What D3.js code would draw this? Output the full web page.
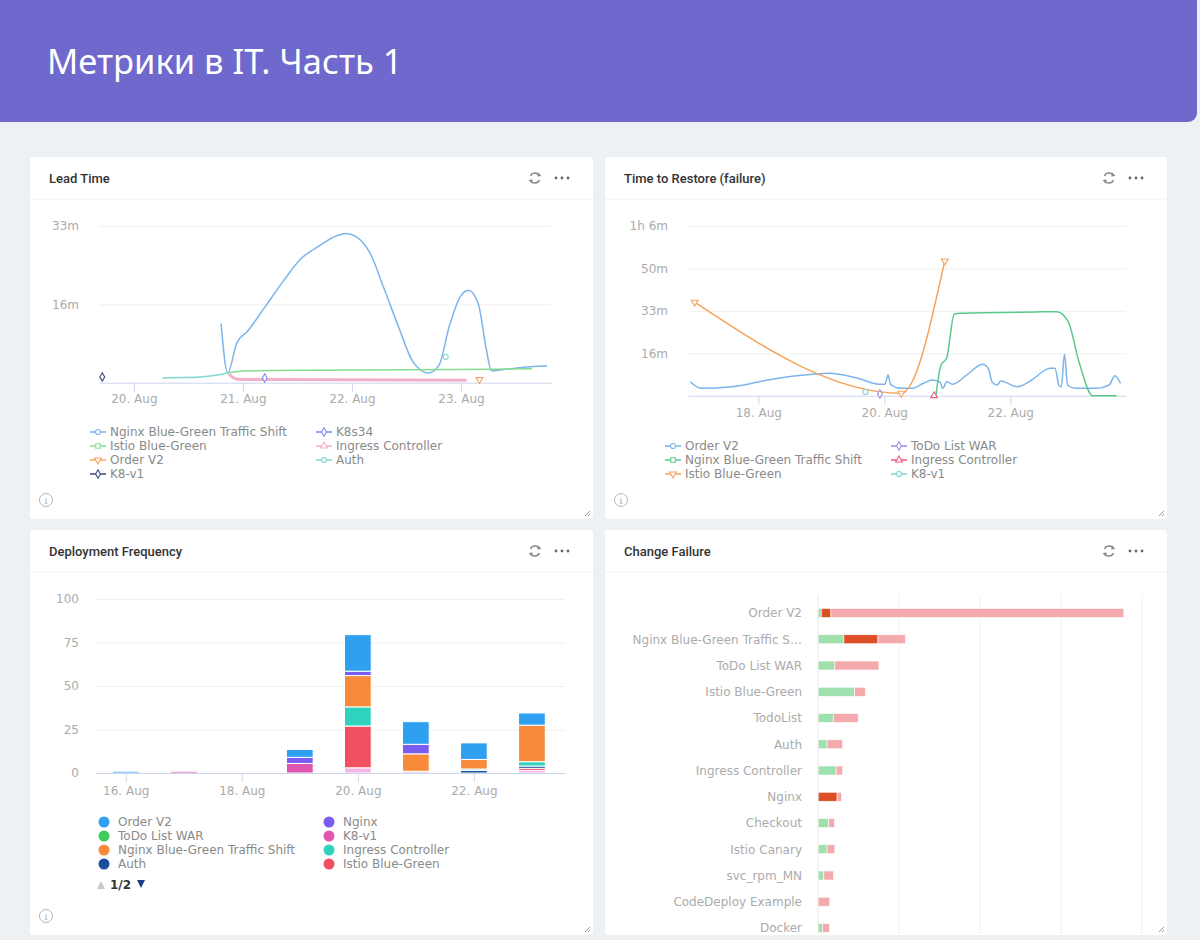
<!DOCTYPE html>
<html>
<head>
<meta charset="utf-8">
<script src="https://cdnjs.cloudflare.com/ajax/libs/d3/7.8.5/d3.min.js"></script>
<style>
  body { margin: 0; background: #eef1f4; }
  svg { display: block; }
  .axis text { font-family: "DejaVu Sans", sans-serif; font-size: 12px; fill: #ababab; }
  .legend text { font-family: "DejaVu Sans", sans-serif; font-size: 12px; fill: #8a8a8a; }
  .ptitle { font-family: Roboto, sans-serif; font-size: 13px; font-weight: 500; fill: #333; }
</style>
</head>
<body>
<svg id="dash" width="1200" height="940"></svg>
<script>
// ---------- data (x = day of August 2019, y = seconds) ----------
var leadTicks = [20, 21, 22, 23];
var leadYTicks = [1000, 2000];
var leadNames = ["Nginx Blue-Green Traffic Shift", "K8s34", "Istio Blue-Green",
  "Ingress Controller", "Order V2", "Auth", "K8-v1"];
var leadNginx = [[20.80, 755], [20.86, 125], [20.945, 511], [21.04, 653], [21.20, 961],
  [21.37, 1296], [21.53, 1579], [21.70, 1746], [21.86, 1875], [21.945, 1905], [22.03, 1870],
  [22.17, 1643], [22.29, 1219], [22.43, 704], [22.56, 266], [22.70, 125], [22.80, 228],
  [22.89, 704], [22.99, 1090], [23.07, 1180], [23.16, 1000], [23.23, 447], [23.28, 151],
  [23.36, 163], [23.52, 189], [23.79, 215]];
var leadK8s34 = [[21.2, 60]];
var leadIstio = [[20.86, 125], [21.0, 150], [21.6, 160], [22.5, 165], [23.3, 172], [23.65, 178]];
var leadIngress = [[20.87, 110], [20.95, 45], [21.3, 40], [22.5, 35], [23.05, 30]];
var leadOrder = [[23.17, 40]];
var leadAuth = [[20.26, 60], [20.45, 66], [20.61, 73], [20.75, 95], [20.86, 125], null, [22.86, 330]];
var leadK8v1 = [[19.71, 73]];

var ttrTicks = [18, 20, 22];
var ttrYTicks = [1000, 2000, 3000, 4000];
var ttrNames = ["Order V2", "ToDo List WAR", "Nginx Blue-Green Traffic Shift",
  "Ingress Controller", "Istio Blue-Green", "K8-v1"];
var ttrOrder = [[16.92, 330], [17.09, 175], [17.58, 212], [18.15, 370], [18.72, 488], [19.13, 528],
  [19.58, 410], [19.93, 269], [20.01, 269], [20.06, 488], [20.10, 269], [20.27, 175], [20.45, 175],
  [20.62, 292], [20.76, 370], [20.88, 330], [20.93, 175], [20.99, 330], [21.08, 269], [21.31, 488],
  [21.56, 740], [21.65, 646], [21.71, 330], [21.79, 252], [21.85, 347], [22.11, 212], [22.34, 370],
  [22.63, 646], [22.71, 646], [22.77, 252], [22.81, 212], [22.86, 976], [22.91, 252], [23.03, 175],
  [23.37, 175], [23.57, 252], [23.66, 472], [23.75, 292]];
var ttrTodo = [[19.93, 40]];
var ttrNginx = [[20.82, 0], [20.90, 723], [20.99, 888], [21.11, 1919], [21.2, 1943], [21.8, 1960],
  [22.4, 1975], [22.74, 1981], [22.92, 1745], [23.09, 802], [23.31, 0], [23.69, 0]];
var ttrIngress = [[20.79, 0]];
var ttrIstio = [[16.99, 2203], [20.27, 57], [20.96, 3177]];
var ttrK8v1 = [[19.70, 87]];

var deployDays = [16, 17, 18, 19, 20, 21, 22, 23];
var deployTicks = [16, 18, 20, 22];
var deployYTicks = [0, 25, 50, 75, 100];
var deployNames = ["Order V2", "Nginx", "ToDo List WAR", "K8-v1", "Nginx Blue-Green Traffic Shift",
  "Ingress Controller", "Auth", "Istio Blue-Green", "TodoList"];
var deployOrder = [1, 0, 0, 4.5, 21, 13, 9.5, 7];
var deployNginx = [0, 0, 0, 3.5, 2.5, 5.5, 0, 0];
var deployTodoWar = [0, 0, 0, 0, 0, 0, 0, 0];
var deployK8v1 = [0, 1, 0, 5.5, 0, 0, 0, 0];
var deployNginxBG = [0, 0, 0, 0, 18, 10, 5.5, 21];
var deployIngress = [0, 0, 0, 0, 11, 0, 0.8, 2.5];
var deployAuth = [0, 0, 0, 0, 0, 0, 1.5, 1.3];
var deployIstio = [0, 0, 0, 0, 24, 0, 0, 1.2];
var deployTodoList = [0, 0, 0, 0, 3, 1, 0, 1.5];

var cfCategories = ["Order V2", "Nginx Blue-Green Traffic Shift", "ToDo List WAR", "Istio Blue-Green",
  "TodoList", "Auth", "Ingress Controller", "Nginx", "Checkout", "Istio Canary", "svc_rpm_MN",
  "CodeDeploy Example", "Docker"];
var cfSuccess = [1, 8, 5.2, 11.3, 4.8, 2.8, 5.6, 0, 3.3, 2.8, 1.8, 0, 1.4];
var cfFailed = [3, 10.5, 0, 0, 0, 0, 0, 5.9, 0, 0, 0, 0, 0];
var cfOther = [90.4, 8.5, 13.6, 3.3, 7.6, 4.8, 2, 1.4, 1.8, 2.4, 3, 3.6, 2.2];
var cfTicks = [25, 50, 75, 100];

// ---------- helpers ----------
var svg = d3.select("#dash");
var aug = function (d) { return new Date(Date.UTC(2019, 7, 1) + (d - 1) * 864e5); };
var fmtDay = d3.utcFormat("%-d. %b");
function fmtDuration(s) {
  var h = Math.floor(s / 3600), m = Math.floor((s % 3600) / 60);
  return h ? h + "h " + m + "m" : m + "m";
}
var symbols = { circle: d3.symbolCircle, diamond: d3.symbolDiamond, square: d3.symbolSquare,
  triangle: d3.symbolTriangle, "triangle-down": d3.symbolTriangle };

function marker(g, sym, cx, cy, color) {
  g.append("path")
    .attr("d", d3.symbol(symbols[sym], 20)())
    .attr("transform", `translate(${cx},${cy})` + (sym === "triangle-down" ? " rotate(180)" : ""))
    .attr("fill", "#fff")
    .attr("stroke", color)
    .attr("stroke-width", 1.1);
}

// ---------- page ----------
svg.append("rect").attr("width", 1200).attr("height", 940).attr("fill", "#eef1f4");
svg.append("rect")
  .attr("x", -10).attr("y", -12).attr("width", 1207).attr("height", 134).attr("rx", 9)
  .attr("fill", "#6f68cd");
svg.append("text")
  .attr("x", 47).attr("y", 74)
  .attr("font-family", "Noto Sans, sans-serif").attr("font-size", 34.5).attr("fill", "#fff")
  .text("Метрики в IT. Часть 1");

function panel(x, y, w, h, title, info) {
  var g = svg.append("g").attr("transform", `translate(${x},${y})`);
  g.append("rect").attr("width", w).attr("height", h).attr("rx", 3).attr("fill", "#fff");
  g.append("line").attr("x1", 0).attr("x2", w).attr("y1", 42).attr("y2", 42)
    .attr("stroke", "#eef0f3");
  g.append("text").attr("class", "ptitle").attr("x", 19).attr("y", 25.5).text(title);
  // refresh icon
  var p = d3.path();
  p.arc(0, 0, 5, -2.7, -0.35);
  p.moveTo(5 * Math.cos(0.45), 5 * Math.sin(0.45));
  p.arc(0, 0, 5, 0.45, 2.8);
  var r = g.append("g").attr("transform", `translate(${w - 58},21)`);
  r.append("path").attr("d", p.toString()).attr("fill", "none")
    .attr("stroke", "#8a8a8a").attr("stroke-width", 1.4);
  r.append("path").attr("d", "M3.2,-5.6 L6.4,-2.2 L2.2,-1.6 Z").attr("fill", "#8a8a8a");
  r.append("path").attr("d", "M-3.2,5.6 L-6.4,2.2 L-2.2,1.6 Z").attr("fill", "#8a8a8a");
  [-6, 0, 6].forEach(function (dx) {
    g.append("circle").attr("cx", w - 31 + dx).attr("cy", 21).attr("r", 1.4).attr("fill", "#666");
  });
  if (info) {
    g.append("circle").attr("cx", 16).attr("cy", h - 19).attr("r", 6.5)
      .attr("fill", "none").attr("stroke", "#b5b5b5");
    g.append("text").attr("x", 16).attr("y", h - 15.5).attr("text-anchor", "middle")
      .attr("font-family", "DejaVu Serif, serif").attr("font-size", 9).attr("fill", "#aaa").text("i");
  }
  // resize grip
  g.append("path").attr("d", `M${w - 8},${h - 3} L${w - 3},${h - 8} M${w - 5},${h - 3} L${w - 3},${h - 5}`)
    .attr("stroke", "#999").attr("stroke-width", 1);
  return g;
}

panel(30, 157, 563, 362, "Lead Time", true);
panel(605, 157, 562, 362, "Time to Restore (failure)", true);
panel(30, 530, 563, 405, "Deployment Frequency", true);
panel(605, 530, 562, 405, "Change Failure", false);

// ---------- line charts ----------
function lineChart(o) {
  var x = d3.scaleUtc().domain(o.xDomain.map(aug)).range([o.left, o.right]);
  var y = d3.scaleLinear().domain([0, o.yMax]).range([o.bottom, o.top]);

  var ya = svg.append("g").attr("class", "axis").attr("transform", `translate(${o.left},0)`)
    .call(d3.axisLeft(y).tickValues(o.yTicks).tickFormat(fmtDuration)
      .tickSizeInner(-(o.right - o.left)).tickSizeOuter(0).tickPadding(20));
  ya.select(".domain").remove();
  ya.selectAll(".tick line").attr("stroke", "#f0f0f0");

  var xa = svg.append("g").attr("class", "axis").attr("transform", `translate(0,${o.bottom})`)
    .call(d3.axisBottom(x).tickValues(o.xTicks.map(aug)).tickFormat(fmtDay)
      .tickSizeInner(9).tickSizeOuter(0).tickPadding(o.labelPad));
  xa.select(".domain").attr("stroke", "#ccd6eb");
  xa.selectAll(".tick line").attr("stroke", "#ccd6eb");

  var line = d3.line()
    .defined(function (d) { return d; })
    .x(function (d) { return x(aug(d[0])); })
    .y(function (d) { return y(d[1]); })
    .curve(d3.curveMonotoneX);

  var g = svg.append("g");
  o.series.forEach(function (s) {
    g.append("path").datum(s.data).attr("d", line).attr("fill", "none")
      .attr("stroke", s.color).attr("stroke-width", s.width || 1.5);
  });
  o.series.forEach(function (s) {
    s.data.forEach(function (d, i) {
      if (!d) return;
      var lone = !s.data[i - 1] && !s.data[i + 1];
      if (lone || s.markAll) marker(g, s.symbol, x(aug(d[0])), y(d[1]), s.color);
    });
  });

  var lg = svg.append("g").attr("class", "legend");
  o.series.forEach(function (s, i) {
    var lx = o.legendX[i % 2], ly = o.legendY + 14 * Math.floor(i / 2);
    lg.append("line").attr("x1", lx).attr("x2", lx + 16).attr("y1", ly).attr("y2", ly)
      .attr("stroke", s.color).attr("stroke-width", 1.5);
    marker(lg, s.symbol, lx + 8, ly, s.color);
    lg.append("text").attr("x", lx + 20).attr("y", ly + 4).text(s.name);
  });
}

lineChart({
  left: 99, right: 551, top: 226, bottom: 382.7, labelPad: 3,
  xDomain: [19.68, 23.826], yMax: 2000, yTicks: leadYTicks, xTicks: leadTicks,
  legendX: [90, 316], legendY: 432,
  series: [
    { name: leadNames[0], data: leadNginx, color: "#7cb5ec", symbol: "circle" },
    { name: leadNames[1], data: leadK8s34, color: "#8085e9", symbol: "diamond" },
    { name: leadNames[2], data: leadIstio, color: "#84dc8f", symbol: "square" },
    { name: leadNames[3], data: leadIngress, color: "#f3b0cb", symbol: "triangle", width: 3 },
    { name: leadNames[4], data: leadOrder, color: "#f7a35c", symbol: "triangle-down" },
    { name: leadNames[5], data: leadAuth, color: "#80d8d0", symbol: "circle" },
    { name: leadNames[6], data: leadK8v1, color: "#3c4a80", symbol: "diamond" }
  ]
});

lineChart({
  left: 688, right: 1126, top: 226, bottom: 395.7, labelPad: 4,
  xDomain: [16.884, 23.837], yMax: 4000, yTicks: ttrYTicks, xTicks: ttrTicks,
  legendX: [665, 891], legendY: 446,
  series: [
    { name: ttrNames[0], data: ttrOrder, color: "#7cb5ec", symbol: "circle" },
    { name: ttrNames[1], data: ttrTodo, color: "#9a8ae6", symbol: "diamond" },
    { name: ttrNames[2], data: ttrNginx, color: "#5cc98c", symbol: "square" },
    { name: ttrNames[3], data: ttrIngress, color: "#f15c80", symbol: "triangle" },
    { name: ttrNames[4], data: ttrIstio, color: "#f7a35c", symbol: "triangle-down", markAll: true },
    { name: ttrNames[5], data: ttrK8v1, color: "#7fd6cf", symbol: "circle" }
  ]
});

// ---------- deployment frequency (stacked columns) ----------
(function () {
  var colors = ["#2f9ff0", "#7b5cf0", "#3ecf5a", "#e055b0", "#f78b3a", "#2fd3bd", "#1c4e9e", "#f0505f", "#f4b6e8"];
  var values = [deployOrder, deployNginx, deployTodoWar, deployK8v1, deployNginxBG,
    deployIngress, deployAuth, deployIstio, deployTodoList];
  var table = deployDays.map(function (d, i) {
    var row = { day: d };
    deployNames.forEach(function (n, k) { row[n] = values[k][i]; });
    return row;
  });
  var x = d3.scaleUtc().domain([aug(15.47), aug(23.57)]).range([95, 565]);
  var y = d3.scaleLinear().domain([0, 100]).range([773, 599]);

  var ya = svg.append("g").attr("class", "axis").attr("transform", "translate(95,0)")
    .call(d3.axisLeft(y).tickValues(deployYTicks).tickSizeInner(-470).tickSizeOuter(0).tickPadding(16));
  ya.select(".domain").remove();
  ya.selectAll(".tick line").attr("stroke", "#f0f0f0");

  // first series sits on top, as in the original
  var stack = d3.stack().keys(deployNames.slice().reverse())(table);
  var bw = (x(aug(17)) - x(aug(16))) * 0.46;
  svg.append("g").selectAll("g").data(stack).join("g")
    .attr("fill", function (s) { return colors[deployNames.indexOf(s.key)]; })
    .selectAll("rect").data(function (s) { return s.filter(function (d) { return d[1] > d[0]; }); })
    .join("rect")
    .attr("x", function (d) { return x(aug(d.data.day)) - bw / 2; })
    .attr("width", bw)
    .attr("y", function (d) { return y(d[1]); })
    .attr("height", function (d) { return y(d[0]) - y(d[1]); })
    .attr("stroke", "#fff").attr("stroke-width", 1);

  var xa = svg.append("g").attr("class", "axis").attr("transform", "translate(0,773)")
    .call(d3.axisBottom(x).tickValues(deployTicks.map(aug)).tickFormat(fmtDay)
      .tickSizeInner(9).tickSizeOuter(0).tickPadding(4));
  xa.select(".domain").attr("stroke", "#ccd6eb");
  xa.selectAll(".tick line").attr("stroke", "#ccd6eb");

  var lg = svg.append("g").attr("class", "legend");
  deployNames.slice(0, 8).forEach(function (n, i) {
    var lx = [104, 329][i % 2], ly = 822 + 14 * Math.floor(i / 2);
    lg.append("circle").attr("cx", lx).attr("cy", ly).attr("r", 5.5).attr("fill", colors[i]);
    lg.append("text").attr("x", lx + 14).attr("y", ly + 4).text(n);
  });
  lg.append("path").attr("d", "M97,889 L101,881 L105,889 Z").attr("fill", "#c8c8c8");
  lg.append("text").attr("x", 110).attr("y", 889).style("fill", "#333").style("font-weight", "bold")
    .text("1/2");
  lg.append("path").attr("d", "M137,880 L145,880 L141,888 Z").attr("fill", "#1c3f8c");
})();

// ---------- change failure (stacked bars) ----------
(function () {
  var keys = ["success", "failed", "other"];
  var colors = { success: "#9ee0ae", failed: "#dc4f27", other: "#f4a9ad" };
  var table = cfCategories.map(function (c, i) {
    return { name: c, success: cfSuccess[i], failed: cfFailed[i], other: cfOther[i] };
  });
  var x = d3.scaleLinear().domain([0, 100]).range([818, 1142]);
  var y = d3.scalePoint().domain(cfCategories).range([613, 928]);
  var bh = 9;

  svg.append("g").selectAll("line").data(cfTicks).join("line")
    .attr("x1", function (d) { return x(d); }).attr("x2", function (d) { return x(d); })
    .attr("y1", 595).attr("y2", 934).attr("stroke", "#f0f0f0");

  var stack = d3.stack().keys(keys)(table);
  svg.append("g").selectAll("g").data(stack).join("g")
    .attr("fill", function (s) { return colors[s.key]; })
    .selectAll("rect").data(function (s) { return s.filter(function (d) { return d[1] > d[0]; }); })
    .join("rect")
    .attr("x", function (d) { return x(d[0]); })
    .attr("width", function (d) { return x(d[1]) - x(d[0]); })
    .attr("y", function (d) { return y(d.data.name) - bh / 2; })
    .attr("height", bh)
    .attr("stroke", "#fff").attr("stroke-width", 0.6);

  var ya = svg.append("g").attr("class", "axis").attr("transform", "translate(818,0)")
    .call(d3.axisLeft(y).tickSize(0).tickPadding(16)
      .tickFormat(function (c) { return c.length > 26 ? c.slice(0, 26) + "…" : c; }));
  ya.select(".domain").attr("stroke", "#eaeaea").attr("d", "M0,595V934");
})();
</script>
</body>
</html>
